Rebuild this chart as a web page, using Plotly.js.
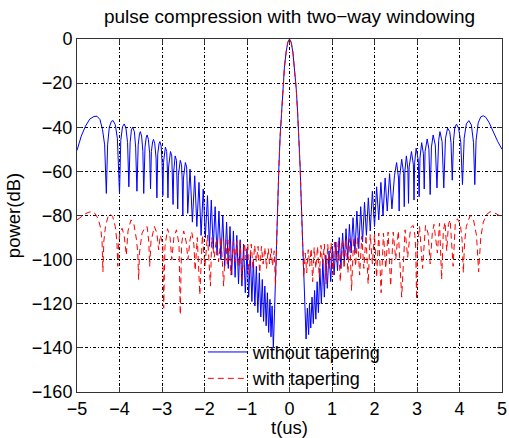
<!DOCTYPE html>
<html><head><meta charset="utf-8">
<script src="https://cdn.plot.ly/plotly-3.0.1.min.js"></script>
<style>html,body{margin:0;padding:0;background:#fff}#chart{width:509px;height:438px}</style>
</head><body><div id="chart"></div>
<script>
// ---- data ----
var titleText = 'pulse compression with two\u2212way windowing';
var xLabel = 't(us)';
var yLabel = 'power(dB)';
var seriesNames = ['without tapering', 'with taperting'];
var xTicks = [-5,-4,-3,-2,-1,0,1,2,3,4,5];
var yTicks = [-160,-140,-120,-100,-80,-60,-40,-20,0];

// shared main lobe (both curves)
var mainT  = [-0.31,-0.29,-0.27,-0.25,-0.22,-0.19,-0.16,-0.12,-0.08,-0.04,0,0.04,0.08,0.12,0.16,0.19,0.22,0.25,0.27,0.29,0.31];
var mainDb = [-95,-82,-70,-58,-44,-33,-23,-13,-6,-1.5,0,-1.5,-6,-13,-23,-33,-44,-58,-70,-82,-95];

// without tapering, left side
var blueLeftT = [
 -5.00,-4.90,-4.80,-4.70,-4.60,-4.53,-4.46,-4.40,-4.35,
 -4.31,-4.28,-4.24,-4.19,-4.15,-4.10,-4.05,
 -4.00,-3.97,-3.93,-3.89,-3.85,-3.81,
 -3.78,-3.75,-3.72,-3.69,-3.65,-3.62,
 -3.59,-3.56,-3.53,-3.51,-3.48,-3.45,
 -3.43,-3.40,-3.37,-3.35,-3.32,-3.29,
 -3.27,-3.25,-3.22,-3.20,-3.17,-3.14,
 -3.12,-3.10,-3.07,-3.05,-3.02,-3.00,
 -2.98,-2.965,-2.92,-2.89,-2.875,
 -2.86,-2.845,-2.80,-2.77,-2.755,
 -2.74,-2.725,-2.69,-2.66,-2.645,
 -2.63,-2.615,-2.57,-2.54,-2.525,
 -2.51,-2.495,-2.45,-2.42,-2.41,
 -2.395,-2.34,-2.285,-2.23,-2.18,-2.13,-2.08,-2.03,-1.98,-1.93,
 -1.885,-1.84,-1.795,-1.75,-1.705,-1.66,-1.615,-1.57,-1.525,-1.48,
 -1.44,-1.40,-1.36,-1.32,-1.28,-1.24,-1.20,-1.16,-1.12,-1.08,
 -1.04,-1.00,-0.96,-0.92,-0.885,-0.85,-0.815,-0.78,-0.745,-0.71,
 -0.675,-0.64,-0.61,-0.58,-0.55,-0.52,-0.49,-0.46,-0.435,-0.41,-0.38,-0.35,-0.33];
var blueLeftDb = [
 -50.5,-44,-39.5,-36.3,-35.1,-35,-36.5,-41,-48,
 -70,-48,-40,-37.3,-37,-38.8,-45,
 -70,-46,-39.8,-38.5,-40.2,-47,
 -67,-47,-41.2,-40,-42,-49,
 -69,-48,-43,-42,-44,-51,
 -70,-49,-44.5,-43.5,-45.5,-52,
 -68,-51,-46.5,-45.5,-47.5,-54,
 -72,-52,-47.5,-46.5,-48.5,-55,
 -71,-56,-49,-51,-58,
 -72,-58,-51,-53,-60,
 -75,-60,-53,-55,-62,
 -77,-62,-55,-57,-64,
 -80,-63,-56,-58,-64,
 -79,-59,-83,-62,-85,-65,-89,-68,-90,-71,
 -94,-73,-95,-76,-98,-78,-100,-80,-103,-83,
 -104,-85,-107,-87,-108,-89,-111,-91,-112,-93,
 -115,-95,-117,-98,-119,-100,-121,-103,-124,-106,
 -126,-109,-128,-112,-130,-115,-133,-118,-135,-121,-140,-122,-108];

// without tapering, right side
var blueRightT = [
 0.33,0.36,0.39,
 0.42,0.45,0.47,0.50,0.53,0.56,0.59,0.62,0.65,0.68,
 0.715,0.75,0.785,0.82,0.855,0.89,0.93,0.97,1.01,1.05,
 1.09,1.13,1.17,1.21,1.25,1.29,1.33,1.37,1.41,1.45,
 1.495,1.54,1.585,1.63,1.675,1.72,1.765,1.81,1.855,1.90,
 1.95,2.00,2.05,2.10,2.15,2.20,2.25,2.30,2.355,2.41,
 2.47,2.52,2.565,2.58,2.595,2.64,2.685,2.70,2.715,2.75,2.785,2.80,2.815,
 2.87,2.915,2.93,2.945,2.98,3.03,3.05,3.07,3.11,3.15,3.17,3.19,3.24,
 3.28,3.31,3.34,3.38,3.43,3.47,3.51,3.54,3.59,3.63,3.67,3.72,
 3.77,3.80,3.83,3.86,3.89,3.93,3.98,4.03,4.07,4.11,4.16,4.22,
 4.28,4.33,4.36,4.39,4.44,4.50,4.56,4.62,4.70,4.80,4.90,5.00];
var blueRightDb = [
 -106,-118,-136,
 -122,-134,-120,-131,-117,-129,-114,-127,-110,-124,
 -104,-120,-100,-117,-98,-113,-96,-110,-94,-107,
 -92,-105,-90,-104,-88,-101,-86,-100,-84,-97,
 -81,-97,-78,-95,-76,-92,-74,-89,-72,-87,
 -69,-85,-67,-82,-65,-80,-63,-78,-61,-77,
 -62,-56,-63,-78,-62,-54.5,-61,-76,-60,-53,-59,-74.5,-58,
 -51,-57,-73,-56,-49.5,-55,-71.5,-54,-47,-52,-68,-51,-45.3,
 -50,-70.5,-49,-43.5,-48,-67.5,-46,-42,-46.5,-67.5,-45,-40.4,
 -42,-47,-64,-46,-40,-38.6,-40.5,-47,-66,-45,-38.5,-37,
 -39,-47,-66,-46,-38,-35.3,-34.8,-35.5,-38,-42.5,-46.5,-50];

// with tapering, left side
var redLeftT = [
 -5.00,-4.90,-4.80,-4.72,-4.65,-4.58,-4.50,-4.44,-4.41,-4.39,-4.37,-4.33,-4.27,-4.22,-4.16,-4.10,-4.06,-4.04,-4.02,-3.99,
 -3.94,-3.89,-3.84,-3.80,-3.73,-3.66,-3.60,-3.57,-3.55,-3.53,-3.47,-3.40,-3.35,-3.31,-3.29,-3.26,-3.18,-3.12,-3.08,-3.04,
 -2.98,-2.96,-2.93,-2.87,-2.81,-2.77,-2.72,-2.66,-2.60,-2.57,-2.54,-2.49,-2.43,-2.39,-2.34,-2.30,-2.25,-2.22,-2.17,-2.11,-2.05,-1.99,
 -1.93,-1.86,-1.83,-1.77,-1.72,-1.67,-1.61,-1.55,-1.50,-1.46,-1.42,-1.38,-1.32,-1.28,-1.24,-1.20,-1.16,-1.12,-1.06,-1.02,
 -0.98,-0.96,-0.90,-0.86,-0.82,-0.78,-0.74,-0.70,-0.66,-0.62,-0.58,-0.54,-0.50,-0.47,-0.43,-0.40,-0.36,-0.33];
var redLeftDb = [
 -82,-80.5,-79.2,-78.5,-78.3,-79,-81.5,-86,-92,-105.5,-92,-85,-80.5,-79.3,-80.5,-85,-92,-103,-93,-88,
 -85.8,-89,-98,-87,-82,-84,-91,-97,-109,-97,-88,-85.5,-85,-92,-103,-92,-85,-88,-95.6,-89,
 -93,-122,-94,-86,-90,-100,-90,-86.5,-93,-125,-93,-87,-92,-100,-91,-87.5,-93,-105,-90,-116,-89,-103,
 -89,-112,-90,-99,-90.5,-101,-90,-112,-91,-103,-91,-107,-92,-101,-91.5,-103,-92,-109,-92.5,-100,
 -93,-107,-93,-104,-93.5,-101,-94,-106,-94,-102,-94.5,-104,-95,-102,-95,-103,-96,-112];

// with tapering, right side
var redRightT = [
 0.335,0.37,0.405,0.44,0.475,0.51,0.545,0.58,0.62,0.66,0.70,0.74,0.78,0.82,0.86,0.90,0.94,0.98,1.02,1.06,
 1.105,1.15,1.195,1.24,1.285,1.33,1.375,1.42,1.46,1.51,1.555,1.60,1.65,1.70,1.75,1.80,1.85,1.90,1.95,2.00,
 2.05,2.10,2.155,2.21,2.265,2.32,2.38,2.44,2.50,2.56,2.64,2.72,2.78,2.85,2.91,2.95,2.97,2.99,3.01,3.06,
 3.13,3.20,3.26,3.31,3.36,3.40,3.48,3.53,3.58,3.62,3.66,3.70,3.74,3.78,3.85,3.90,3.95,4.02,4.06,4.09,
 4.12,4.16,4.25,4.33,4.40,4.45,4.50,4.56,4.64,4.72,4.82,4.92,5.00];
var redRightDb = [
 -108,-97,-106,-95.5,-103,-95,-110,-94.5,-104,-94,-108,-93.5,-102,-93,-111,-93,-104,-92.5,-107,-92,
 -101,-91.5,-110,-91,-104,-91,-106,-90.5,-114,-90,-103,-90,-107,-89.5,-104,-89,-111,-88.5,-102,-88.5,
 -108,-88,-115,-88,-104,-87.5,-112,-87.5,-100,-87,-117,-86.5,-99,-85.5,-84.5,-89,-95,-118,-94,-85,
 -104,-84.5,-88,-102,-88,-84,-97,-83.5,-109,-87,-83,-96,-84,-82,-103,-84,-81.5,-84,-91,-106,
 -92,-85,-80,-82,-89,-105.5,-90,-83,-79.5,-78.3,-78.8,-79.8,-80.5];

// ---- chart ----
var blue = {
  x: blueLeftT.concat(mainT, blueRightT),
  y: blueLeftDb.concat(mainDb, blueRightDb),
  type: 'scatter', mode: 'lines', name: seriesNames[0],
  line: {color: '#0000ff', width: 1}
};
var red = {
  x: redLeftT.concat(mainT, redRightT),
  y: redLeftDb.concat(mainDb, redRightDb),
  type: 'scatter', mode: 'lines', name: seriesNames[1],
  line: {color: '#ff0000', width: 1, dash: '6px,4px'}
};

var gridDash = '3px,2px,1px,2px';
var axisCommon = {
  showline: true, linecolor: '#333', linewidth: 1, mirror: 'ticks',
  ticks: 'inside', ticklen: 5, tickcolor: '#333',
  showgrid: true, gridcolor: '#000', gridwidth: 1, griddash: gridDash,
  zeroline: false, tickfont: {size: 18, color: '#000'}
};

var layout = {
  width: 509, height: 438,
  margin: {l: 77, r: 7, t: 39, b: 46, pad: 0},
  paper_bgcolor: '#ffffff', plot_bgcolor: '#ffffff',
  font: {family: '"Liberation Sans", Arial, sans-serif', size: 18, color: '#000'},
  title: {text: titleText, x: 0.5, xref: 'paper', xanchor: 'center',
          y: 1 - 16/438, yref: 'container', yanchor: 'middle', font: {size: 19, color: '#000'}},
  xaxis: Object.assign({}, axisCommon, {
    range: [-5, 5], tickvals: xTicks,
    title: {text: xLabel, font: {size: 18.5}, standoff: 4}
  }),
  yaxis: Object.assign({}, axisCommon, {
    range: [-160, 0], tickvals: yTicks,
    title: {text: yLabel, font: {size: 18.5}, standoff: 6}
  }),
  showlegend: true,
  legend: {x: 0.296, y: 0.165, xanchor: 'left', yanchor: 'top', itemwidth: 40,
           bgcolor: 'rgba(0,0,0,0)', borderwidth: 0, font: {size: 18, color: '#000'},
           tracegroupgap: 0}
};

Plotly.newPlot('chart', [blue, red], layout, {staticPlot: true, displayModeBar: false});
</script>
</body></html>
